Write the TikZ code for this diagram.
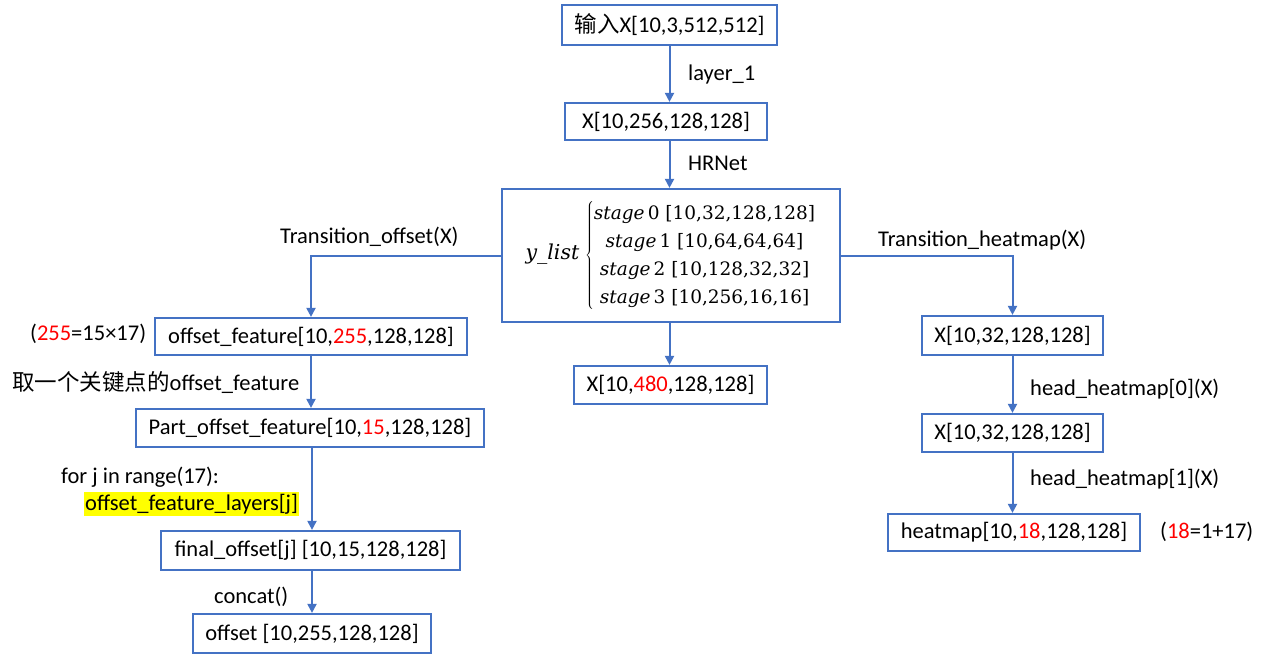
\documentclass[tikz,border=0pt]{standalone}
\usepackage{fontspec}
\setmainfont{Carlito}
\newfontfamily\cjk{Noto Sans CJK SC}
\newfontfamily\seriffam{DejaVu Serif}
\usetikzlibrary{arrows.meta}
\definecolor{boxblue}{HTML}{4472C4}
\definecolor{hl}{HTML}{FFFF00}
\definecolor{redtxt}{HTML}{FF0000}
\newcommand{\rd}[1]{\textcolor{redtxt}{#1}}
\begin{document}
\begin{tikzpicture}[x=1pt,y=-1pt,
  every node/.style={font=\fontsize{22.5}{27}\selectfont, text=black},
  box/.style={draw=boxblue, line width=2.2pt, inner sep=0pt, fill=white},
  arr/.style={draw=boxblue, line width=2pt, -{Triangle[length=9pt,width=9pt]}},
  lbl/.style={anchor=west, inner sep=0pt}]
\useasboundingbox (0,0) rectangle (1268,658);
% boxes
\node[box, minimum width=215, minimum height=40] (in) at (669.5,25) {{\cjk 输入}X[10,3,512,512]};
\node[box, minimum width=202, minimum height=37] (x1) at (666,121.5) {X[10,256,128,128]};
\node[box, minimum width=338, minimum height=133] (big) at (671,255.5)
  {\seriffam\fontsize{18.5}{28}\selectfont $\textit{\fontsize{20.5}{24}\selectfont y\_list}\,\left\{\begin{tabular}{@{}c@{}}\textit{stage}\,0 [10,32,128,128]\\ \textit{stage}\,1 [10,64,64,64]\\ \textit{stage}\,2 [10,128,32,32]\\ \textit{stage}\,3 [10,256,16,16]\end{tabular}\right.$};
\node[box, minimum width=193, minimum height=38] (x480) at (670.5,385) {X[10,\rd{480},128,128]};
\node[box, minimum width=312, minimum height=37] (of) at (311,336.5) {offset\_feature[10,\rd{255},128,128]};
\node[box, minimum width=348, minimum height=38] (part) at (310,428) {Part\_offset\_feature[10,\rd{15},128,128]};
\node[box, minimum width=299, minimum height=39] (fin) at (310.5,550.5) {final\_offset[j] [10,15,128,128]};
\node[box, minimum width=238, minimum height=39] (off) at (312,633.5) {offset [10,255,128,128]};
\node[box, minimum width=181, minimum height=39] (h1) at (1012.5,335.5) {X[10,32,128,128]};
\node[box, minimum width=181, minimum height=38] (h2) at (1012.5,433) {X[10,32,128,128]};
\node[box, minimum width=252, minimum height=37] (hm) at (1014,532.5) {heatmap[10,\rd{18},128,128]};
% connectors
\draw[arr] (in.south) -- (in.south |- x1.north);
\draw[arr] (in.south |- x1.south) -- (in.south |- big.north);
\draw[arr] (in.south |- big.south) -- (in.south |- x480.north);
\draw[arr] (big.west) -| (of.north);
\draw[arr] (big.east) -| (h1.north);
\draw[arr] (of.south) -- (of.south |- part.north);
\draw[arr] ([xshift=2pt]part.south) -- ([xshift=2pt]part.south |- fin.north);
\draw[arr] ([xshift=2pt]part.south |- fin.south) -- ([xshift=2pt]part.south |- off.north);
\draw[arr] (h1.south) -- (h2.north);
\draw[arr] (h2.south) -- (h2.south |- hm.north);
% labels
\node[lbl] (l1) at (688,75) {layer\_1};
\node[lbl] (l2) at (688,163) {HRNet};
\node[lbl] (l3) at (280,237) {Transition\_offset(X)};
\node[lbl] (l4) at (878,240) {Transition\_heatmap(X)};
\node[lbl] (l5) at (30,334) {(\rd{255}=15×17)};
\node[lbl] (l6) at (12,383) {{\cjk 取一个关键点的}offset\_feature};
\node[lbl] (l7) at (61,477) {for j in range(17):};
\node[lbl, fill=hl, inner xsep=1pt, inner ysep=2pt] (l8) at (84,504) {offset\_feature\_layers[j]};
\node[lbl] (l9) at (214,597) {concat()};
\node[lbl] (l10) at (1030,389) {head\_heatmap[0](X)};
\node[lbl] (l11) at (1030,479) {head\_heatmap[1](X)};
\node[lbl] (l12) at (1160,532) {(\rd{18}=1+17)};
\end{tikzpicture}
\end{document}
